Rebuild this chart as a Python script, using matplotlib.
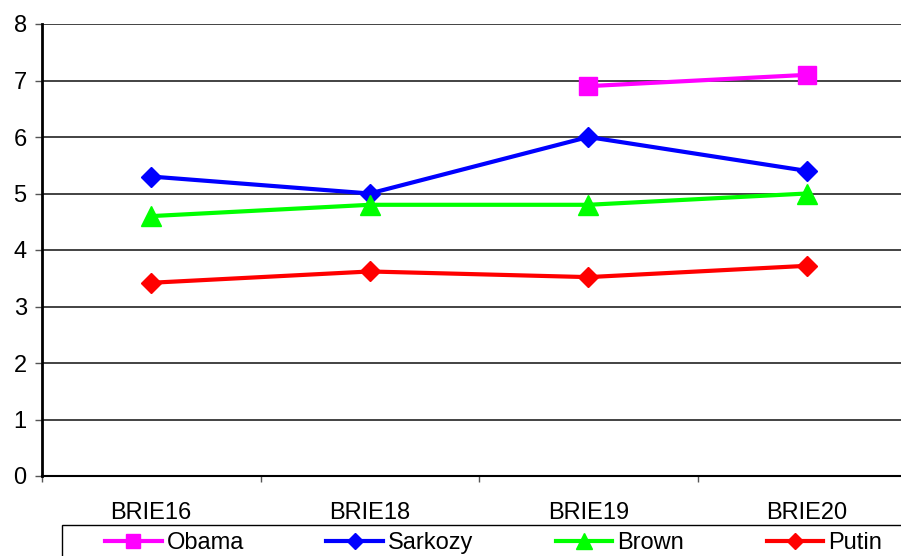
import matplotlib.pyplot as plt
from matplotlib.patches import Rectangle
import numpy as np

plt.rcParams.update({
    'font.family': ['Liberation Sans', 'DejaVu Sans'],
    'font.size': 17,
})

# data
categories = ['BRIE16', 'BRIE18', 'BRIE19', 'BRIE20']
obama   = [np.nan, np.nan, 6.9, 7.1]
sarkozy = [5.3, 5.0, 6.0, 5.4]
brown   = [4.6, 4.8, 4.8, 5.0]
putin   = [3.42, 3.62, 3.52, 3.72]

W, H = 901, 556
fig = plt.figure(figsize=(W / 100, H / 100), dpi=100)
# axes run past the right edge, as in the cropped reference
ax = fig.add_axes([42 / W, 1 - 476 / H, (916 - 42) / W, (476 - 24) / H])

x = np.arange(len(categories))
ax.plot(x, obama, color='#FF00FF', lw=3, marker='s', ms=12.5, label='Obama', zorder=3)
ax.plot(x, sarkozy, color='#0000FF', lw=3, marker='D', ms=10, label='Sarkozy', zorder=3)
ax.plot(x, brown, color='#00FF00', lw=3, marker='^', ms=14, label='Brown', zorder=3)
ax.plot(x, putin, color='#FF0000', lw=3, marker='D', ms=10, label='Putin', zorder=3)

ax.set_xlim(-0.5, 3.5)
ax.set_ylim(0, 8)
ax.set_yticks(range(0, 9))
ax.set_xticks(x)
ax.set_xticklabels(categories)
ax.set_xticks(np.arange(-0.5, 4, 1), minor=True)
ax.tick_params(axis='x', which='major', length=0, pad=19)
ax.tick_params(axis='x', which='minor', length=4.5, width=1, color='#555555')
ax.tick_params(axis='y', length=5, width=1, color='#555555', pad=6)

ax.grid(axis='y', color='#222222', lw=1.2)
ax.set_axisbelow(True)
for s in ['top', 'right']:
    ax.spines[s].set_visible(False)
ax.spines['left'].set_linewidth(2)
ax.spines['bottom'].set_linewidth(1.5)

# legend box, cut off at the bottom/right like the reference
fig.add_artist(Rectangle((62 / W, -0.1), 1.0, 0.1 + (H - 525) / H,
                         transform=fig.transFigure, facecolor='none',
                         edgecolor='black', lw=1))
leg = fig.legend(loc='upper left', bbox_to_anchor=(105 / W, 1 - 532 / H),
                 ncol=4, frameon=False, borderaxespad=0, borderpad=0,
                 handlelength=2.4, columnspacing=3.5, handletextpad=0.2,
                 markerscale=0.85, fontsize=17)

fig.savefig('out.png', dpi=100, facecolor='white')
